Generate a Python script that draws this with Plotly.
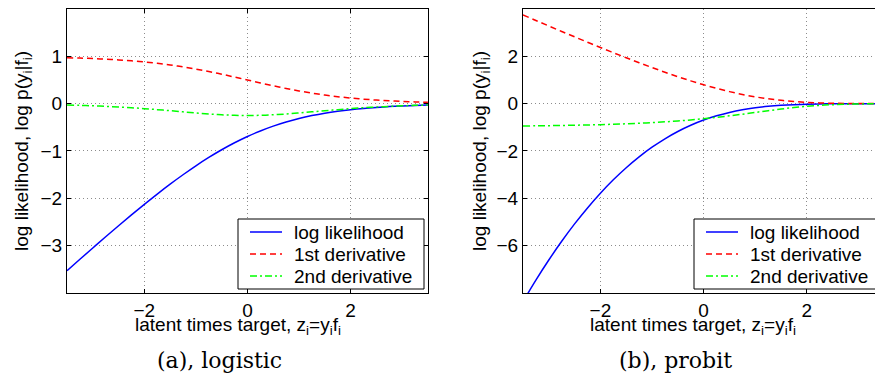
import plotly.graph_objects as go

# latent times target z
z = [-3.5, -3.25, -3.0, -2.75, -2.5, -2.25, -2.0, -1.75, -1.5, -1.25, -1.0, -0.75, -0.5, -0.25,
     0.0, 0.25, 0.5, 0.75, 1.0, 1.25, 1.5, 1.75, 2.0, 2.25, 2.5, 2.75, 3.0, 3.25, 3.5]

# (a) logistic
logistic_ll = [-3.530, -3.288, -3.049, -2.812, -2.579, -2.350, -2.127, -1.910, -1.701, -1.502,
               -1.313, -1.137, -0.974, -0.826, -0.693, -0.576, -0.474, -0.387, -0.313, -0.252,
               -0.201, -0.160, -0.127, -0.100, -0.079, -0.062, -0.049, -0.038, -0.030]
logistic_d1 = [0.971, 0.963, 0.953, 0.940, 0.924, 0.905, 0.881, 0.852, 0.818, 0.777,
               0.731, 0.679, 0.623, 0.562, 0.500, 0.438, 0.378, 0.321, 0.269, 0.223,
               0.182, 0.148, 0.119, 0.095, 0.076, 0.060, 0.047, 0.037, 0.029]
logistic_d2 = [-0.028, -0.036, -0.045, -0.057, -0.070, -0.086, -0.105, -0.126, -0.149, -0.173,
               -0.197, -0.218, -0.235, -0.246, -0.250, -0.246, -0.235, -0.218, -0.197, -0.173,
               -0.149, -0.126, -0.105, -0.086, -0.070, -0.057, -0.045, -0.036, -0.028]

# (b) probit
probit_ll = [-8.366, -7.458, -6.608, -5.816, -5.081, -4.405, -3.783, -3.217, -2.706, -2.248,
             -1.841, -1.484, -1.176, -0.913, -0.693, -0.513, -0.369, -0.257, -0.173, -0.112,
             -0.069, -0.041, -0.023, -0.012, -0.006, -0.003, -0.001, -0.001, 0.000]
probit_d1 = [3.751, 3.516, 3.283, 3.052, 2.823, 2.597, 2.373, 2.154, 1.939, 1.729,
             1.525, 1.329, 1.141, 0.964, 0.798, 0.646, 0.509, 0.389, 0.288, 0.204,
             0.139, 0.090, 0.055, 0.032, 0.018, 0.009, 0.004, 0.002, 0.001]
probit_d2 = [-0.943, -0.936, -0.930, -0.921, -0.911, -0.900, -0.886, -0.870, -0.851, -0.828,
             -0.801, -0.769, -0.732, -0.688, -0.637, -0.579, -0.514, -0.444, -0.370, -0.297,
             -0.228, -0.165, -0.114, -0.073, -0.044, -0.025, -0.013, -0.007, -0.003]

names = ["log likelihood", "1st derivative", "2nd derivative"]
colors = ["#0000FF", "#FF0000", "#00FF00"]
dashes = ["solid", "6px,4px", "7px,3px,2px,3px"]

FONT = "Liberation Sans, Arial, Helvetica, sans-serif"
SERIF = "DejaVu Serif, Liberation Serif, serif"
FS = 19
W, H = 875, 375

fig = go.Figure()
for ys, nm, c, d in zip([logistic_ll, logistic_d1, logistic_d2], names, colors, dashes):
    fig.add_trace(go.Scatter(x=z, y=ys, mode="lines", name=nm, showlegend=False,
                             line=dict(color=c, width=1.5, dash=d, shape="spline"),
                             xaxis="x", yaxis="y"))
for ys, nm, c, d in zip([probit_ll, probit_d1, probit_d2], names, colors, dashes):
    fig.add_trace(go.Scatter(x=z, y=ys, mode="lines", name=nm, showlegend=False,
                             line=dict(color=c, width=1.5, dash=d, shape="spline"),
                             xaxis="x2", yaxis="y2"))

axis_common = dict(showgrid=True, gridcolor="#8c8c8c", griddash="1px,3px", gridwidth=1,
                   zeroline=False, showline=True, linecolor="black", linewidth=1.2,
                   ticks="inside", ticklen=4, tickcolor="black",
                   tickfont=dict(family=FONT, size=FS, color="black"))

ytitle = "log likelihood, log p(y<sub>i</sub>|f<sub>i</sub>)"
xtitle = "latent times target, z<sub>i</sub>=y<sub>i</sub>f<sub>i</sub>"


def px(x):
    return x / W


def py(y):
    return (H - y) / H


shapes = []
annotations = []

# legends (one per panel), drawn in paper coordinates
for left in (238, 694):
    top, bottom, width = 219, 289, 186
    shapes.append(dict(type="rect", xref="paper", yref="paper",
                       x0=px(left), x1=px(left + width), y0=py(bottom), y1=py(top),
                       line=dict(color="black", width=1), fillcolor="white", layer="above"))
    for k, (nm, c, d) in enumerate(zip(names, colors, dashes)):
        yy = 232 + 22 * k
        shapes.append(dict(type="line", xref="paper", yref="paper",
                           x0=px(left + 12), x1=px(left + 44), y0=py(yy), y1=py(yy),
                           line=dict(color=c, width=1.5, dash=d), layer="above"))
        annotations.append(dict(text=nm, xref="paper", yref="paper", x=px(left + 54), y=py(yy),
                                xanchor="left", yanchor="middle", showarrow=False,
                                font=dict(family=FONT, size=FS, color="black")))

# x axis titles
for cx in (238, 693):
    annotations.append(dict(text=xtitle, xref="paper", yref="paper", x=px(cx), y=py(326),
                            xanchor="center", yanchor="middle", showarrow=False,
                            font=dict(family=FONT, size=FS, color="black")))

# captions
annotations.append(dict(text="(a), logistic", x=px(219), y=py(360), xref="paper", yref="paper",
                        showarrow=False, font=dict(family=SERIF, size=22, color="black"),
                        xanchor="center", yanchor="middle"))
annotations.append(dict(text="(b), probit", x=px(675), y=py(360), xref="paper", yref="paper",
                        showarrow=False, font=dict(family=SERIF, size=22, color="black"),
                        xanchor="center", yanchor="middle"))

fig.update_layout(
    width=W, height=H,
    margin=dict(l=0, r=0, t=0, b=0, autoexpand=False),
    paper_bgcolor="white", plot_bgcolor="white",
    showlegend=False,
    xaxis=dict(domain=[0.0766, 0.489], range=[-3.5, 3.5], tickvals=[-2, 0, 2],
               mirror="ticks", anchor="y", **axis_common),
    yaxis=dict(domain=[0.2187, 0.976], range=[-4, 2], tickvals=[-3, -2, -1, 0, 1],
               mirror="ticks", anchor="x",
               title=dict(text=ytitle, font=dict(family=FONT, size=FS, color="black"), standoff=6),
               **axis_common),
    xaxis2=dict(domain=[0.5977, 1.0], range=[-3.5, 3.32], tickvals=[-2, 0, 2],
                mirror=True, anchor="y2", **axis_common),
    yaxis2=dict(domain=[0.2187, 0.976], range=[-8, 4], tickvals=[-6, -4, -2, 0, 2],
                mirror=False, anchor="x2",
                title=dict(text=ytitle, font=dict(family=FONT, size=FS, color="black"), standoff=4),
                **axis_common),
    shapes=shapes,
    annotations=annotations,
)

fig.write_html("out.html", config={"displayModeBar": False},
               post_script="document.body.style.margin='0';document.body.style.overflow='hidden';")
